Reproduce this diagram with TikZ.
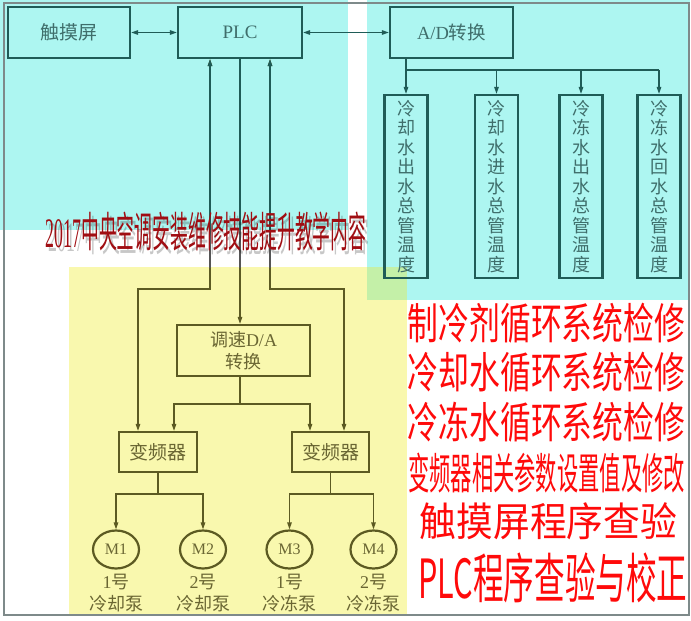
\documentclass[tikz,border=0pt]{standalone}
\usepackage{fontspec}
\setmainfont{Liberation Serif}
\newfontfamily\cjk{Noto Sans CJK SC}
\usepackage{graphicx}
\usetikzlibrary{arrows.meta,shapes.geometric,calc}
\definecolor{cyanbg}{HTML}{ADF6F1}
\definecolor{yellowbg}{HTML}{F9F8AE}
\definecolor{greenbg}{HTML}{C4F0A8}
\definecolor{tealline}{HTML}{1F5C57}
\definecolor{tealtext}{HTML}{3F6E6B}
\definecolor{oliveline}{HTML}{5C5A22}
\definecolor{olivetext}{HTML}{6A6633}
\definecolor{grayline}{HTML}{555555}
\definecolor{bordergray}{HTML}{7E8A8A}
\definecolor{redtitle}{HTML}{A00D12}
\definecolor{brightred}{HTML}{FF0A0A}
\newcommand\plcwires[1]{%
  \draw[#1, bar] ([xshift=-30pt]plc.south) -- (lb1) -| ([xshift=-20pt]vfd1.north);
  \draw[#1, bar] ([xshift=30pt]plc.south) -- (lb2) -| ([xshift=13.5pt]vfd2.north);
  \draw[#1, ar] (plc.south) -- (plc.south |- da.north);
}
\begin{document}
\begin{tikzpicture}[x=1pt,y=-1pt,
  ar/.style={-{Triangle[length=7pt,width=4.5pt]}},
  bar/.style={{Triangle[length=7pt,width=4.5pt]}-{Triangle[length=7pt,width=4.5pt]}},
  tline/.style={draw=tealline,line width=1.3pt},
  yline/.style={draw=oliveline,line width=1.3pt},
  gline/.style={draw=grayline,line width=1.3pt},
  tbox/.style={draw=tealline,line width=2.2pt,text=tealtext,inner sep=0pt},
  ybox/.style={draw=oliveline,line width=2.2pt,text=olivetext,inner sep=0pt},
  vtext/.style={font=\cjk\fontsize{18}{19.5}\selectfont,align=center},
  redtxt/.style={text=brightred,inner sep=0pt},
  lbl/.style={text=olivetext,font=\fontsize{18}{22}\selectfont,align=center,inner sep=0pt}]
\useasboundingbox (0,0) rectangle (691,621);
\fill[white] (0,0) rectangle (691,621);
\fill[cyanbg] (0,0) rectangle (348,230);
\fill[cyanbg] (367,0) rectangle (690,300);
\fill[yellowbg] (69,267) rectangle (407,614);
\fill[greenbg] (367,267) rectangle (407,300);
\draw[bordergray,line width=1.6pt] (4,3) rectangle (689,615);

% top row
\node[tbox,minimum width=122pt,minimum height=51pt,font=\cjk\fontsize{19}{19}\selectfont] (touch) at (69,32.5) {触摸屏};
\node[tbox,minimum width=124pt,minimum height=51pt,font=\fontsize{19}{19}\selectfont] (plc) at (240,32.5) {PLC};
\node[tbox,minimum width=123pt,minimum height=51pt,font=\fontsize{18.5}{18.5}\selectfont] (ad) at (451.5,32.5) {A/D{\cjk 转换}};
\draw[tline,bar] (touch) -- (plc);
\draw[tline,bar] (plc) -- (ad);

% temperature boxes
\node[tbox,vtext,minimum width=43pt,minimum height=183pt] (t1) at (406,186.5) {冷\\却\\水\\出\\水\\总\\管\\温\\度};
\node[tbox,vtext,minimum width=43pt,minimum height=183pt] (t2) at (496.5,186.5) {冷\\却\\水\\进\\水\\总\\管\\温\\度};
\node[tbox,vtext,minimum width=43pt,minimum height=183pt] (t3) at (581,186.5) {冷\\冻\\水\\出\\水\\总\\管\\温\\度};
\node[tbox,vtext,minimum width=43pt,minimum height=183pt] (t4) at (659,186.5) {冷\\冻\\水\\回\\水\\总\\管\\温\\度};
\coordinate (adbus) at (0,70);
\draw[tline,ar] (ad.south -| t1.north) -- (t1.north);
\draw[tline] (t1.north |- adbus) -- (t4.north |- adbus);
\draw[tline,ar] (t2.north |- adbus) -- (t2.north);
\draw[tline,ar] (t3.north |- adbus) -- (t3.north);
\draw[tline,ar] (t4.north |- adbus) -- (t4.north);

% lower part
\node[ybox,minimum width=133pt,minimum height=51pt,font=\fontsize{18}{22}\selectfont,align=center] (da) at (243.5,350.5) {{\cjk 调速}D/A\\{\cjk 转换}};
\node[ybox,minimum width=78pt,minimum height=40pt,font=\cjk\fontsize{19}{19}\selectfont] (vfd1) at (158,452) {变频器};
\node[ybox,minimum width=77pt,minimum height=40pt,font=\cjk\fontsize{19}{19}\selectfont] (vfd2) at (330.5,452) {变频器};
\coordinate (lb1) at (210,289);
\coordinate (lb2) at (270,289);
\plcwires{yline}
\begin{scope}
  \clip (0,0) rectangle (348,230);
  \plcwires{tline}
\end{scope}
\begin{scope}
  \clip (0,230) rectangle (367,267);
  \plcwires{gline}
\end{scope}
\coordinate (dbus) at (0,404);
\draw[yline] (plc.south |- da.south) -- (plc.south |- dbus);
\draw[yline,ar] (plc.south |- dbus) -| ([xshift=16pt]vfd1.north);
\draw[yline,ar] (plc.south |- dbus) -| ([xshift=-20.5pt]vfd2.north);

\node[ybox,ellipse,minimum width=46pt,minimum height=38pt,font=\fontsize{16}{16}\selectfont] (m1) at (116,549.5) {M1};
\node[ybox,ellipse,minimum width=46pt,minimum height=38pt,font=\fontsize{16}{16}\selectfont] (m2) at (203,549.5) {M2};
\node[ybox,ellipse,minimum width=46pt,minimum height=38pt,font=\fontsize{16}{16}\selectfont] (m3) at (289.5,549.5) {M3};
\node[ybox,ellipse,minimum width=46pt,minimum height=38pt,font=\fontsize{16}{16}\selectfont] (m4) at (373.5,549.5) {M4};
\draw[yline] (vfd1.south) -- ++(0,21) coordinate (vb1);
\draw[yline,ar] (vb1) -| (m1.north);
\draw[yline,ar] (vb1) -| (m2.north);
\draw[yline] (vfd2.south) -- ++(0,21) coordinate (vb2);
\draw[yline,ar] (vb2) -| (m3.north);
\draw[yline,ar] (vb2) -| (m4.north);
\node[lbl] (l1) at (116,593) {1{\cjk 号}\\{\cjk 冷却泵}};
\node[lbl] (l2) at (203,593) {2{\cjk 号}\\{\cjk 冷却泵}};
\node[lbl] (l3) at (289.5,593) {1{\cjk 号}\\{\cjk 冷冻泵}};
\node[lbl] (l4) at (373.5,593) {2{\cjk 号}\\{\cjk 冷冻泵}};

% title with shadow
\node[text=black,opacity=0.22,inner sep=0pt,font=\fontsize{42}{42}\selectfont] (tshadow) at (209,235) {\scalebox{0.424}[1]{2017{\cjk 中央空调安装维修技能提升教学内容}}};
\node[text=redtitle,inner sep=0pt,font=\fontsize{42}{42}\selectfont] (title) at (206,231) {\scalebox{0.424}[1]{2017{\cjk 中央空调安装维修技能提升教学内容}}};

% right red text
\node[redtxt,font=\cjk\fontsize{43}{43}\selectfont] (r1) at (546.5,323) {\scalebox{0.716}[1]{制冷剂循环系统检修}};
\node[redtxt,font=\cjk\fontsize{43}{43}\selectfont] (r2) at (546.5,372.5) {\scalebox{0.716}[1]{冷却水循环系统检修}};
\node[redtxt,font=\cjk\fontsize{43}{43}\selectfont] (r3) at (546.5,421.7) {\scalebox{0.716}[1]{冷冻水循环系统检修}};
\node[redtxt,font=\cjk\fontsize{43}{43}\selectfont] (r4) at (546.5,473) {\scalebox{0.495}[1]{变频器相关参数设置值及修改}};
\node[redtxt,font=\cjk\fontsize{40}{40}\selectfont] (r5) at (548.5,521.7) {\scalebox{0.92}[1]{触摸屏程序查验}};
\node[redtxt,font=\cjk\fontsize{54}{54}\selectfont] (r6) at (553,578) {\scalebox{0.567}[1]{PLC程序查验与校正}};
\end{tikzpicture}
\end{document}
